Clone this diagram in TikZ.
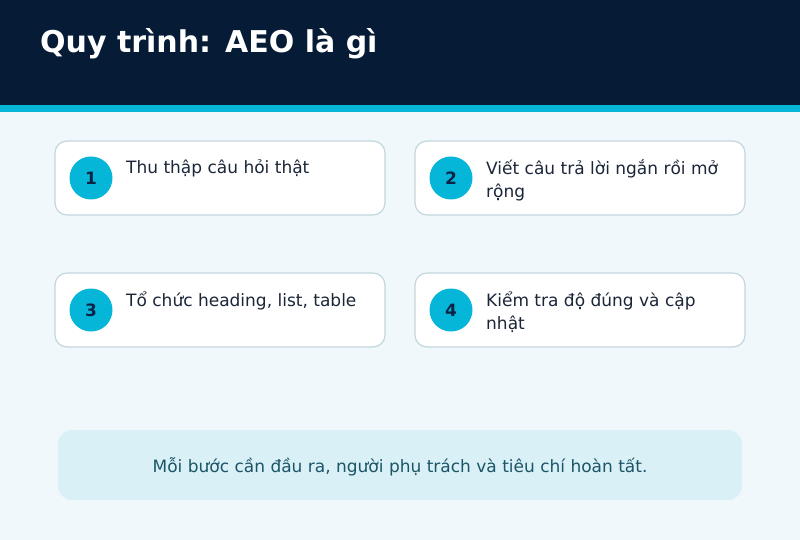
\documentclass[tikz,border=0pt]{standalone}
\usepackage{fontspec}
\setmainfont{DejaVu Sans}
\definecolor{hdr}{HTML}{061B36}
\definecolor{cyanc}{HTML}{06B6D8}
\definecolor{bgc}{HTML}{F1F8FB}
\definecolor{cardb}{HTML}{C3D6DE}
\definecolor{txt}{HTML}{1B2638}
\definecolor{numc}{HTML}{0B2346}
\definecolor{notef}{HTML}{D8F0F6}
\definecolor{notet}{HTML}{1C5568}
\begin{document}
\begin{tikzpicture}[x=1pt,y=-1pt,
  card/.style={draw=cardb,line width=1.2pt,fill=white,rounded corners=12pt},
  num/.style={circle,fill=cyanc,minimum size=43pt,inner sep=0pt,text=numc,font=\fontsize{17}{20}\selectfont\bfseries},
  lbl/.style={anchor=base west,inner sep=0pt,text=txt,align=left,font=\fontsize{17}{23.5}\selectfont},
]
\useasboundingbox (0,0) rectangle (800,540);
\fill[bgc] (0,0) rectangle (800,540);
\fill[hdr] (0,0) rectangle (800,105);
\fill[cyanc] (0,105) rectangle (800,112);
\node[anchor=base west,inner sep=0pt,text=white,font=\fontsize{30}{34}\selectfont\bfseries] (title) at (40,53) {Quy trình: AEO là gì};
% cards
\draw[card] (55,141) rectangle (385,215);
\draw[card] (415,141) rectangle (745,215);
\draw[card] (55,273) rectangle (385,347);
\draw[card] (415,273) rectangle (745,347);
\node[num] (n1) at (91,178) {1};
\node[num] (n2) at (451,178) {2};
\node[num] (n3) at (91,310) {3};
\node[num] (n4) at (451,310) {4};
\node[lbl] (t1) at (126,174) {Thu thập câu hỏi thật};
\node[lbl] (t2) at (486,197.5) {Viết câu trả lời ngắn rồi mở\\rộng};
\node[lbl] (t3) at (126,306) {Tổ chức heading, list, table};
\node[lbl] (t4) at (486,329.5) {Kiểm tra độ đúng và cập\\nhật};
% note
\fill[notef,rounded corners=14pt] (58,430) rectangle (742,500);
\node[anchor=base,inner sep=0pt,text=notet,font=\fontsize{17}{20}\selectfont] (note) at (400,472) {Mỗi bước cần đầu ra, người phụ trách và tiêu chí hoàn tất.};
\end{tikzpicture}
\end{document}
